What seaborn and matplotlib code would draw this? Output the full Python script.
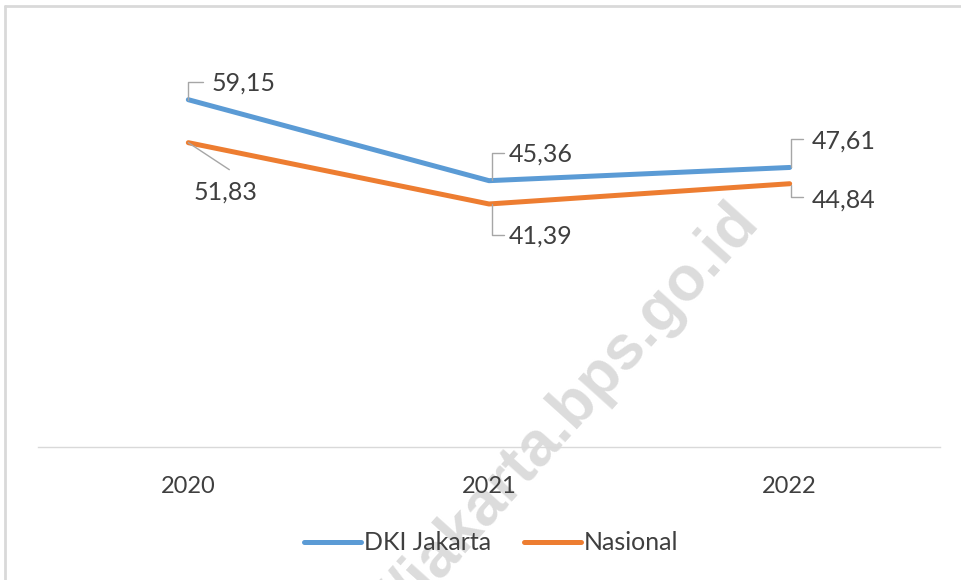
import pandas as pd
import matplotlib.pyplot as plt
import seaborn as sns
from matplotlib.lines import Line2D

tahun = ['2020', '2021', '2022']
dki = [59.15, 45.36, 47.61]
nasional = [51.83, 41.39, 44.84]
seri = ['DKI Jakarta', 'Nasional']
warna = ['#5B9BD5', '#ED7D31']

df = pd.DataFrame({
    'tahun': tahun * 2,
    'nilai': dki + nasional,
    'wilayah': [seri[0]] * 3 + [seri[1]] * 3,
})

sns.set_style('white')
plt.rcParams['font.family'] = ['Lato', 'DejaVu Sans']
teks = '#3f3f3f'

fig = plt.figure(figsize=(9.62, 5.8), dpi=100)
ax = fig.add_axes([38/962, 1-447/580, 902/962, (447-36)/580])

# watermark behind everything
fig.text(760/962, 1-222/580, 'http://jakarta.bps.go.id', family='Liberation Sans',
         fontweight='bold', fontsize=45, color='#dcdcdc', rotation=48,
         rotation_mode='anchor', ha='right', va='baseline', zorder=-1)

sns.lineplot(data=df, x='tahun', y='nilai', hue='wilayah', palette=warna,
             linewidth=3.6, ax=ax, solid_capstyle='round', zorder=3)
ax.patch.set_alpha(0)
ax.set_xlim(-0.5, 2.5)
ax.set_ylim(0, 70)
ax.set_xlabel('')
ax.set_ylabel('')
ax.set_yticks([])
ax.tick_params(axis='x', length=0, pad=21, labelsize=17, labelcolor=teks)
for s in ['top', 'left', 'right']:
    ax.spines[s].set_visible(False)
ax.spines['bottom'].set_color('#d9d9d9')
ax.spines['bottom'].set_linewidth(1)

# data labels with leader lines (offsets in pixels, y up)
offsets = [
    [[(0, 0), (0, 18), (15, 18)], (23, 17), 'left'],
    [[(3, 1), (3, 28), (15, 28)], (20, 27), 'left'],
    [[(1, 0), (1, 28), (13, 28)], (22, 26), 'left'],
]
offsets_nas = [
    [[(0, 0), (41, -27)], (37, -49), 'center'],
    [[(3, 0), (3, -31), (15, -31)], (20, -32), 'left'],
    [[(1, -1), (1, -13), (13, -13)], (22, -16), 'left'],
]

def label(i, val, spec):
    pts, toff, ha = spec
    px, py = ax.transData.transform((i, val))
    xs = [px + dx for dx, dy in pts]
    ys = [py + dy for dx, dy in pts]
    fig.add_artist(Line2D(xs, ys, transform=None, color='#a6a6a6', lw=1, zorder=2))
    ax.annotate(f'{val:.2f}'.replace('.', ','), (i, val), xytext=toff,
                textcoords='offset pixels', ha=ha, va='center',
                fontsize=18, color=teks, zorder=5)

for i in range(len(tahun)):
    label(i, dki[i], offsets[i])
    label(i, nasional[i], offsets_nas[i])

handles, labels = ax.get_legend_handles_labels()
ax.get_legend().remove()
fig.legend(handles, labels, loc='center', bbox_to_anchor=(491/962, 1-543/580),
           ncol=2, frameon=False, fontsize=18, labelcolor=teks,
           handlelength=2.3, handletextpad=0.1, columnspacing=1.3)

# outer chart frame (top and left edges visible)
fig.add_artist(Line2D([5/962, 5/962], [0, 1-6/580], color='#d9d9d9', lw=2))
fig.add_artist(Line2D([5/962, 1], [1-6/580, 1-6/580], color='#d9d9d9', lw=2))

fig.savefig('out.png', dpi=100, facecolor='white')
